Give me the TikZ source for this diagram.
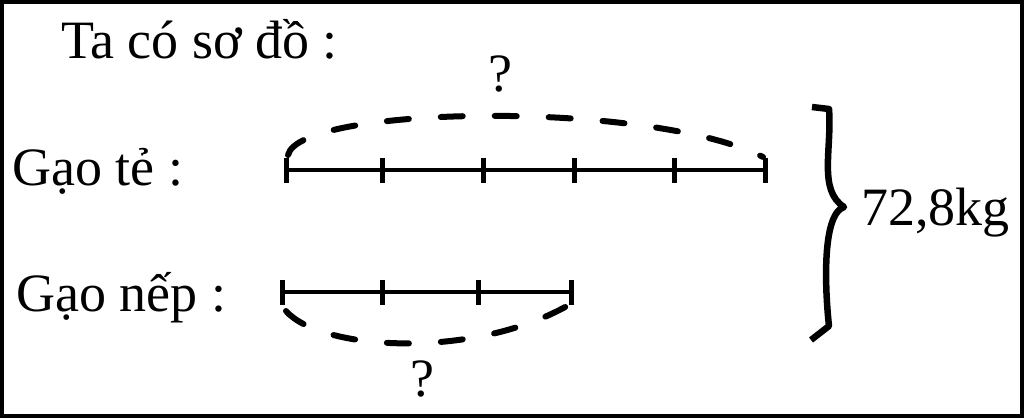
\documentclass[tikz,border=0pt]{standalone}
\usepackage{fontspec}
\setmainfont{Liberation Serif}
\usetikzlibrary{positioning}

\tikzset{
  lbl/.style={inner sep=0pt, anchor=base west, font=\fontsize{54}{62}\selectfont},
  bar/.style={line width=4pt},
  tick/.style={line width=5pt},
  arc/.style={line width=6pt, dash pattern=on 22pt off 32pt, line cap=round},
}

\begin{document}
\begin{tikzpicture}[x=1pt, y=-1pt]
      \useasboundingbox (0,0) rectangle (1024,419);
      \draw[line width=4pt] (2,2) rectangle (1022,416);

      % nodes %
      \node[lbl] (title) at (61,59) {Ta có sơ đồ :};
      \node[lbl] (te) at (12,186) {Gạo tẻ :};
      \node[lbl] (nep) at (16,312) {Gạo nếp :};
      \node[lbl] (total) at (861,226) {72,8kg};
      \node[lbl, anchor=base] (qte) at (500,92) {?};
      \node[lbl, anchor=base] (qnep) at (422,396) {?};

      \coordinate (te0) at (286,170);
      \coordinate (te5) at (765,170);
      \coordinate (nep0) at (282,292);
      \coordinate (nep3) at (571,292);

      % edges %
      \draw[bar] (te0) -- (te5);
      \draw[bar] (nep0) -- (nep3);
      \foreach \x in {286,382,483,574,674,765}
        \draw[tick] (\x,158) -- (\x,183);
      \foreach \x in {282,382,478,571}
        \draw[tick] (\x,280) -- (\x,305);

      \draw[arc] (288,155) .. controls (300,105) and (650,100) .. (763,157);
      \draw[arc] (286,311) .. controls (320,350) and (470,360) .. (567,306);

      % brace %
      \draw[line width=6.5pt, line join=round]
        (812,107) -- (829,109) .. controls (832,150) and (818,190) .. (844,207)
        .. controls (820,215) and (826,300) .. (829,326) -- (811,340);
\end{tikzpicture}
\end{document}
